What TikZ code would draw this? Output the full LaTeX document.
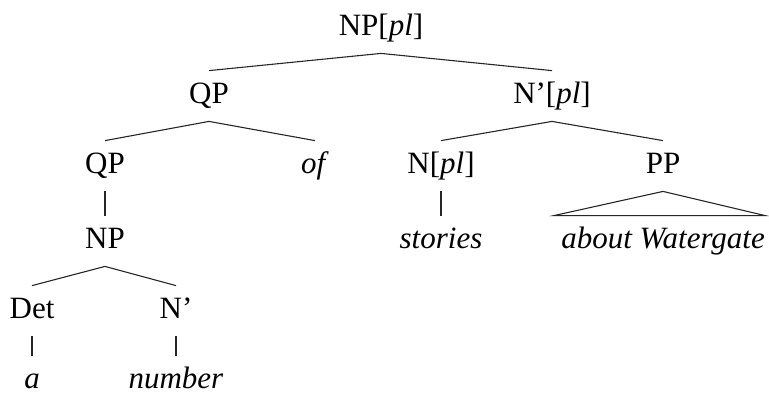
\documentclass[tikz,border=0pt]{standalone}
\usepackage{fontspec}
\setmainfont{Liberation Serif}
\usetikzlibrary{positioning}

\begin{document}
\begin{tikzpicture}[x=0.5pt,y=-0.5pt,node distance=35pt,on grid,
  every node/.style={font=\fontsize{15.5}{18}\selectfont,inner xsep=0pt,
    inner ysep=3pt,text height=13pt,text depth=6pt},
  branch/.style={line width=0.55pt,draw=black!85}]
  \useasboundingbox (0,0) rectangle (769,393);
  \node[anchor=base] (top) at (381,35) {NP[\textit{pl}]};
  \node (qp) [below left=34pt and 86pt of top] {QP};
  \node (nbar) [below right=34pt and 85.5pt of top] {N’[\textit{pl}]};
  \node (qpb) [below left=35pt and 52pt of qp] {QP};
  \node (of) [below right=35pt and 53pt of qp] {\textit{of}};
  \node (npl) [below left=35pt and 55.5pt of nbar] {N[\textit{pl}]};
  \node (pp) [below right=35pt and 55.5pt of nbar] {PP};
  \node (np) [below=37.5pt of qpb] {NP};
  \node (det) [below left=35pt and 36.5pt of np] {Det};
  \node (nb) [below right=35pt and 35.5pt of np] {N’};
  \node (a) [below=35pt of det] {\textit{a}};
  \node (number) [below=35pt of nb] {\textit{number}};
  \node (stories) [below=37.5pt of npl] {\textit{stories}};
  \node (aw) [below=37.5pt of pp] {\textit{about Watergate}};
  % branches
  \draw[branch] (qp.north) -- (top.south) -- (nbar.north);
  \draw[branch] (qpb.north) -- (qp.south) -- (of.north);
  \draw[branch] (npl.north) -- (nbar.south) -- (pp.north);
  \draw[branch] (qpb.south) -- (np.north);
  \draw[branch] (det.north) -- (np.south) -- (nb.north);
  \draw[branch] (det.south) -- (a.north);
  \draw[branch] (nb.south) -- (number.north);
  \draw[branch] (npl.south) -- (stories.north);
  \draw[branch] (pp.south) -- ([xshift=-3.5pt]aw.north west) -- (aw.north east) -- cycle;
\end{tikzpicture}
\end{document}
